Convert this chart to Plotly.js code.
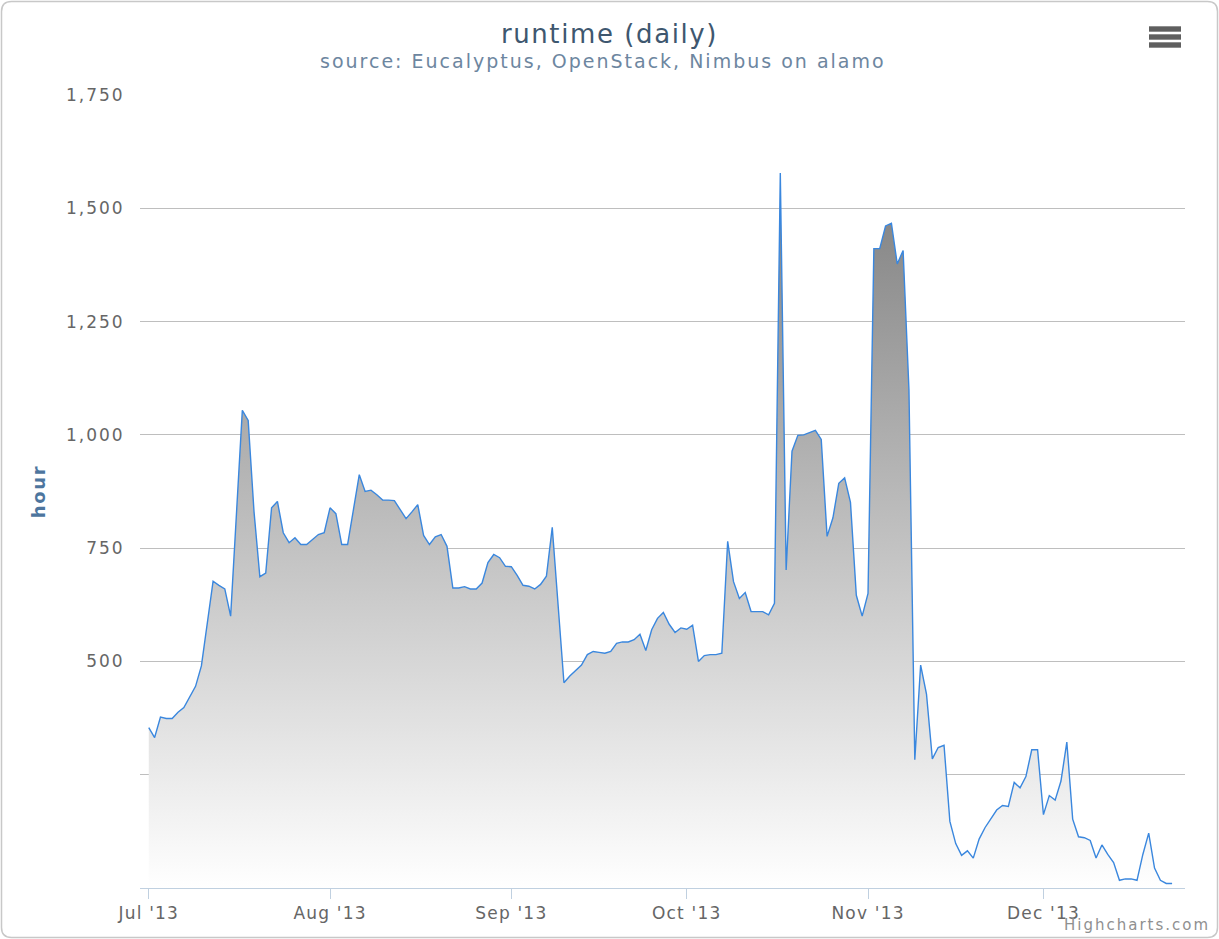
<!DOCTYPE html>
<html>
<head>
<meta charset="utf-8">
<script src="https://cdn.plot.ly/plotly-3.0.1.min.js"></script>
<style>
  html, body { margin: 0; padding: 0; background: #ffffff; }
  #chart { width: 1219px; height: 939px; }
  .gtitle { letter-spacing: 1.6px; }
  .annotation-text { letter-spacing: 2px; }
  .xtick text { letter-spacing: 1.2px; }
  .ytick text { letter-spacing: 2px; }
  .ytitle { letter-spacing: 1.7px; }
</style>
</head>
<body>
<div id="chart"></div>
<script>
// ---- Data (daily runtime in hours, starting 2013-07-01) ----
const startDate = '2013-07-01';
const runtimeHours = [
  354, 332, 377, 374, 374, 388, 398, 420, 445, 490,
  580, 677, 668, 660, 600, 830, 1054, 1032, 830, 687,
  695, 839, 853, 784, 762, 773, 758, 758, 769, 780,
  784, 839, 826, 758, 758, 835, 912, 875, 878, 868,
  856, 856, 855, 835, 815, 830, 846, 778, 758, 775,
  780, 754, 662, 662, 665, 660, 660, 673, 718, 736,
  729, 710, 709, 690, 668, 666, 660, 670, 688, 796,
  620, 453, 468, 480, 492, 515, 522, 520, 518, 522,
  540, 543, 543, 548, 560, 524, 570, 595, 608, 582,
  564, 574, 571, 580, 500, 513, 515, 515, 518, 765,
  676, 639, 652, 610, 610, 610, 603, 628, 1578, 702,
  964, 999, 1000, 1005, 1010, 990, 776, 817, 893, 905,
  851, 646, 600, 650, 1411, 1411, 1461, 1467, 1377, 1407,
  1100, 283, 492, 428, 285, 310, 315, 147, 98, 72,
  82, 66, 108, 133, 152, 172, 182, 180, 233, 221,
  246, 305, 305, 162, 204, 194, 236, 322, 152, 113,
  111, 105, 66, 95, 74, 56, 17, 20, 20, 17,
  74, 121, 44, 17, 10, 10
];
const monthTickDates = ['2013-07-01', '2013-08-01', '2013-09-01', '2013-10-01', '2013-11-01', '2013-12-01'];
const monthTickLabels = ["Jul '13", "Aug '13", "Sep '13", "Oct '13", "Nov '13", "Dec '13"];
const yTickValues = [250, 500, 750, 1000, 1250, 1500, 1750];
const yTickLabels = ['', '500', '750', '1,000', '1,250', '1,500', '1,750'];
const chartTitle = 'runtime (daily)';
const chartSubtitle = 'source: Eucalyptus, OpenStack, Nimbus on alamo';
const yAxisTitle = 'hour';

// daily series: pointStart + one day per point
const dates = runtimeHours.map((_, i) => {
  const d = new Date(startDate + 'T00:00:00Z');
  d.setUTCDate(d.getUTCDate() + i);
  return d.toISOString().slice(0, 10);
});

// ---- Layout geometry helpers (pixel -> paper) ----
const W = 1219, H = 939;
const L = 140, R = 1185, T = 95, B = 888;
const PW = R - L, PH = B - T;
const px = v => (v - L) / PW;
const py = v => (B - v) / PH;

function roundedRectPath(x0, y0, x1, y1, r) {
  return 'M' + px(x0 + r) + ',' + py(y0) +
    ' L' + px(x1 - r) + ',' + py(y0) +
    ' Q' + px(x1) + ',' + py(y0) + ' ' + px(x1) + ',' + py(y0 + r) +
    ' L' + px(x1) + ',' + py(y1 - r) +
    ' Q' + px(x1) + ',' + py(y1) + ' ' + px(x1 - r) + ',' + py(y1) +
    ' L' + px(x0 + r) + ',' + py(y1) +
    ' Q' + px(x0) + ',' + py(y1) + ' ' + px(x0) + ',' + py(y1 - r) +
    ' L' + px(x0) + ',' + py(y0 + r) +
    ' Q' + px(x0) + ',' + py(y0) + ' ' + px(x0 + r) + ',' + py(y0) + ' Z';
}

const FONT = 'DejaVu Sans, Verdana, sans-serif';
const maxVal = Math.max(...runtimeHours);

const trace = {
  type: 'scatter',
  mode: 'lines',
  x: dates,
  y: runtimeHours,
  name: 'runtime',
  line: { color: '#3a87de', width: 1.4 },
  fill: 'tozeroy',
  fillgradient: {
    type: 'vertical',
    colorscale: [[0, '#ffffff'], [1, '#7f7f7f']],
    start: 0,
    stop: maxVal
  },
  hoverinfo: 'x+y'
};

const menuBars = [29, 37, 45].map(c => ({
  type: 'rect', xref: 'paper', yref: 'paper',
  x0: px(1149), x1: px(1181), y0: py(c - 2.7), y1: py(c + 2.7),
  fillcolor: '#5f5f5f', line: { width: 0 }, layer: 'above'
}));

const layout = {
  width: W, height: H,
  paper_bgcolor: '#ffffff', plot_bgcolor: '#ffffff',
  margin: { l: L, r: W - R, t: T, b: H - B, pad: 0 },
  showlegend: false,
  hovermode: false,
  title: {
    text: chartTitle,
    font: { family: FONT, size: 26, color: '#3E576F' },
    x: 0.5, xref: 'container', xanchor: 'center',
    y: 1 - 34 / H, yref: 'container', yanchor: 'middle'
  },
  xaxis: {
    type: 'date',
    range: ['2013-06-29 12:00', '2013-12-25 05:00'],
    tickmode: 'array',
    tickvals: monthTickDates,
    ticktext: monthTickLabels,
    ticks: 'outside', ticklen: 10, tickwidth: 1, tickcolor: '#C0D0E0',
    showgrid: false, zeroline: false,
    showline: true, linecolor: '#C0D0E0', linewidth: 1,
    tickfont: { family: FONT, size: 17, color: '#666666' },
    fixedrange: true
  },
  yaxis: {
    range: [0, 1750],
    tickmode: 'array',
    tickvals: yTickValues,
    ticktext: yTickLabels,
    ticks: 'outside', ticklen: 11, tickcolor: 'rgba(0,0,0,0)',
    showgrid: true, gridcolor: '#BEBEBE', gridwidth: 1,
    zeroline: false, showline: false,
    tickfont: { family: FONT, size: 17, color: '#666666' },
    title: {
      text: '<b>' + yAxisTitle + '</b>',
      font: { family: FONT, size: 18, color: '#4d759e' },
      standoff: 15
    },
    fixedrange: true
  },
  annotations: [
    {
      text: chartSubtitle, xref: 'paper', yref: 'paper',
      x: px(603), y: py(61), xanchor: 'center', yanchor: 'middle',
      showarrow: false,
      font: { family: FONT, size: 19, color: '#6D869F' }
    },
    {
      text: 'Highcharts.com', xref: 'paper', yref: 'paper',
      x: px(1212), y: py(925), xanchor: 'right', yanchor: 'middle',
      showarrow: false,
      font: { family: FONT, size: 15, color: '#909090' }
    }
  ],
  shapes: [
    {
      type: 'path', xref: 'paper', yref: 'paper',
      path: roundedRectPath(1.5, 1.5, 1217.5, 937.5, 10),
      line: { color: '#c8c8c8', width: 1.5 }, fillcolor: 'rgba(0,0,0,0)', layer: 'below'
    }
  ].concat(menuBars)
};

Plotly.newPlot('chart', [trace], layout, { displayModeBar: false, staticPlot: false, responsive: false });
</script>
</body>
</html>
